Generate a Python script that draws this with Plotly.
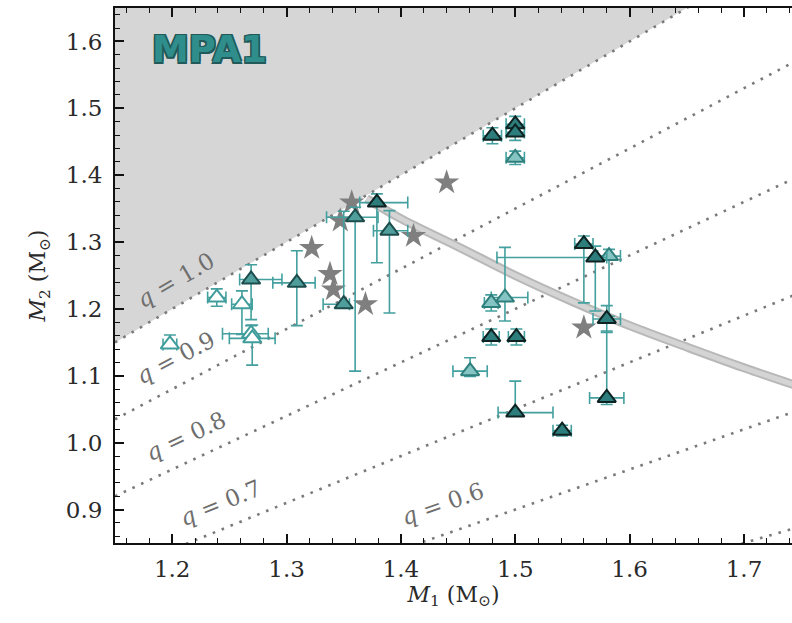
import plotly.graph_objects as go

# ---- axis ranges / ticks -------------------------------------------------
x_range = [1.15, 1.742]
y_range = [0.85, 1.65]
x_ticks = [1.2, 1.3, 1.4, 1.5, 1.6, 1.7]
y_ticks = [0.9, 1.0, 1.1, 1.2, 1.3, 1.4, 1.5, 1.6]

# ---- constant mass-ratio lines M2 = q * M1 ---------------------------------
q_values = [1.0, 0.9, 0.8, 0.7, 0.6, 0.5]
q_label_values = [1.0, 0.9, 0.8, 0.7, 0.6]
q_label_m1 = [1.203, 1.2025, 1.212, 1.242, 1.436]
q_label_offset = [0.040, 0.044, 0.041, 0.040, 0.047]
q_label_angle = [30.3, 27.8, 25.1, 22.3, 19.3]

# ---- constant chirp-mass band ------------------------------------------------
band_m1 = [1.37, 1.40, 1.45, 1.50, 1.55, 1.60, 1.65, 1.70, 1.75]
band_m2 = [1.365, 1.335, 1.293, 1.250, 1.211, 1.175, 1.143, 1.112, 1.083]

# ---- stars ---------------------------------------------------------------
star_m1 = [1.322, 1.357, 1.347, 1.338, 1.341, 1.369, 1.411, 1.440, 1.560]
star_m2 = [1.291, 1.359, 1.332, 1.252, 1.229, 1.207, 1.309, 1.389, 1.172]

# ---- triangles: dark filled ----------------------------------------------
dark_m1 = [1.379, 1.480, 1.500, 1.500, 1.479, 1.501, 1.500, 1.541, 1.560, 1.570, 1.580, 1.580]
dark_m2 = [1.359, 1.459, 1.476, 1.464, 1.158, 1.158, 1.045, 1.018, 1.297, 1.277, 1.185, 1.067]
dark_m1_lo = [0.015, 0.008, 0.008, 0.008, 0.007, 0.007, 0.015, 0.008, 0.008, 0.086, 0.012, 0.015]
dark_m1_hi = [0.027, 0.008, 0.008, 0.008, 0.007, 0.007, 0.033, 0.008, 0.008, 0.010, 0.012, 0.015]
dark_m2_lo = [0.090, 0.012, 0.012, 0.012, 0.012, 0.012, 0.005, 0.008, 0.088, 0.080, 0.020, 0.010]
dark_m2_hi = [0.013, 0.012, 0.012, 0.012, 0.012, 0.012, 0.047, 0.008, 0.012, 0.017, 0.020, 0.100]

# ---- triangles: medium filled --------------------------------------------
mid_m1 = [1.269, 1.309, 1.350, 1.360, 1.390]
mid_m2 = [1.244, 1.239, 1.207, 1.337, 1.317]
mid_m1_lo = [0.010, 0.021, 0.018, 0.025, 0.014]
mid_m1_hi = [0.027, 0.016, 0.005, 0.020, 0.016]
mid_m2_lo = [0.060, 0.064, 0.005, 0.230, 0.123]
mid_m2_hi = [0.022, 0.048, 0.139, 0.015, 0.030]

# ---- triangles: light filled ---------------------------------------------
light_m1 = [1.479, 1.491, 1.4605, 1.500, 1.582]
light_m2 = [1.209, 1.217, 1.107, 1.426, 1.279]
light_m1_lo = [0.006, 0.012, 0.015, 0.008, 0.010]
light_m1_hi = [0.006, 0.020, 0.015, 0.008, 0.010]
light_m2_lo = [0.012, 0.035, 0.008, 0.010, 0.090]
light_m2_hi = [0.012, 0.075, 0.020, 0.010, 0.010]

# ---- triangles: open -----------------------------------------------------
open_m1 = [1.198, 1.239, 1.261, 1.269, 1.270]
open_m2 = [1.147, 1.217, 1.207, 1.163, 1.156]
open_m1_lo = [0.006, 0.008, 0.009, 0.025, 0.020]
open_m1_hi = [0.006, 0.008, 0.009, 0.015, 0.020]
open_m2_lo = [0.005, 0.013, 0.045, 0.012, 0.040]
open_m2_hi = [0.014, 0.013, 0.020, 0.012, 0.020]

SERIF = "DejaVu Serif"
TEXT = "#2a2a2a"
ERR_COLOR = "#43a09e"

fig = go.Figure()

# region above q = 1 (M2 > M1)
x0, x1 = x_range[0], 1.75
fig.add_trace(go.Scatter(
    x=[x0, y_range[1], x0], y=[x0, y_range[1], y_range[1]],
    fill="toself", fillcolor="#d6d6d6", line=dict(width=0),
    mode="lines", hoverinfo="skip", showlegend=False))

# dotted q lines
for q in q_values:
    fig.add_trace(go.Scatter(
        x=[x0, x1], y=[q * x0, q * x1], mode="lines",
        line=dict(color="#7a7a7a", width=2.6, dash="2.6px,7px"),
        hoverinfo="skip", showlegend=False))

# chirp-mass band
fig.add_trace(go.Scatter(x=band_m1, y=band_m2, mode="lines", line_shape="spline",
                         line=dict(color="#b8b8b8", width=9),
                         hoverinfo="skip", showlegend=False))
fig.add_trace(go.Scatter(x=band_m1, y=band_m2, mode="lines", line_shape="spline",
                         line=dict(color="#d4d4d4", width=5),
                         hoverinfo="skip", showlegend=False))

# stars
fig.add_trace(go.Scatter(x=star_m1, y=star_m2, mode="markers",
                         marker=dict(symbol="star", size=19, color="#7f7f7f",
                                     line=dict(width=0)),
                         showlegend=False))


def tri_trace(m1, m2, xlo, xhi, ylo, yhi, fill, edge):
    return go.Scatter(
        x=m1, y=m2, mode="markers",
        error_x=dict(type="data", symmetric=False, array=xhi, arrayminus=xlo,
                     color=ERR_COLOR, thickness=1.6, width=6),
        error_y=dict(type="data", symmetric=False, array=yhi, arrayminus=ylo,
                     color=ERR_COLOR, thickness=1.6, width=6),
        marker=dict(symbol="triangle-up", size=16, color=fill,
                    line=dict(color=edge, width=2)),
        showlegend=False)


fig.add_trace(tri_trace(open_m1, open_m2, open_m1_lo, open_m1_hi,
                        open_m2_lo, open_m2_hi, "#ffffff", "#3f9d9b"))
fig.add_trace(tri_trace(light_m1, light_m2, light_m1_lo, light_m1_hi,
                        light_m2_lo, light_m2_hi, "#84c4c2", "#2f7f7d"))
fig.add_trace(tri_trace(mid_m1, mid_m2, mid_m1_lo, mid_m1_hi,
                        mid_m2_lo, mid_m2_hi, "#4f9e9c", "#1c4c4b"))
fig.add_trace(tri_trace(dark_m1, dark_m2, dark_m1_lo, dark_m1_hi,
                        dark_m2_lo, dark_m2_hi, "#2c7d7b", "#0e2222"))

annotations = []
for q, xm, off, ang in zip(q_label_values, q_label_m1, q_label_offset, q_label_angle):
    annotations.append(dict(
        x=xm, y=q * xm + off, xref="x", yref="y",
        text=f"<i>q</i> = {q:.1f}", showarrow=False, textangle=-ang,
        font=dict(family=SERIF, size=23, color="#6e6e6e"),
        xanchor="center", yanchor="middle"))

# EoS name
outline = "#215a59"
annotations.append(dict(
    x=1.1805, y=1.588, xref="x", yref="y", text="<b>MPA1</b>", showarrow=False,
    xanchor="left", yanchor="middle",
    font=dict(family="DejaVu Sans", size=37, color="#2f8e8b",
              shadow=(f"-1.5px -1.5px 0 {outline}, 1.5px -1.5px 0 {outline}, "
                      f"-1.5px 1.5px 0 {outline}, 1.5px 1.5px 0 {outline}"))))

fig.update_layout(
    width=792, height=623,
    margin=dict(l=115, r=0, t=8, b=80),
    paper_bgcolor="white", plot_bgcolor="white",
    annotations=annotations,
    font=dict(family=SERIF, size=22, color=TEXT),
)

fig.update_xaxes(
    range=x_range, tickvals=x_ticks, ticktext=[f"{v:.1f}" for v in x_ticks],
    ticks="inside", ticklen=9, tickwidth=1.8, tickcolor="#111",
    showline=True, linecolor="#111", linewidth=2, mirror="allticks",
    showgrid=False, zeroline=False, ticklabelstandoff=4,
    minor=dict(dtick=0.02, tick0=1.2, ticks="inside", ticklen=5, tickwidth=1.3,
               tickcolor="#111", showgrid=False),
    tickfont=dict(family=SERIF, size=23, color=TEXT),
    title=dict(text="<i>M</i><sub>1</sub> (M<sub>⊙</sub>)", standoff=4,
               font=dict(family=SERIF, size=22, color=TEXT)),
)
fig.update_yaxes(
    range=y_range, tickvals=y_ticks, ticktext=[f"{v:.1f}" for v in y_ticks],
    ticks="inside", ticklen=9, tickwidth=1.8, tickcolor="#111",
    showline=True, linecolor="#111", linewidth=2, mirror=False,
    showgrid=False, zeroline=False, ticklabelstandoff=6,
    minor=dict(dtick=0.02, tick0=0.9, ticks="inside", ticklen=5, tickwidth=1.3,
               tickcolor="#111", showgrid=False),
    tickfont=dict(family=SERIF, size=23, color=TEXT),
    title=dict(text="<i>M</i><sub>2</sub> (M<sub>⊙</sub>)", standoff=14,
               font=dict(family=SERIF, size=22, color=TEXT)),
)

fig.write_html("out.html")
